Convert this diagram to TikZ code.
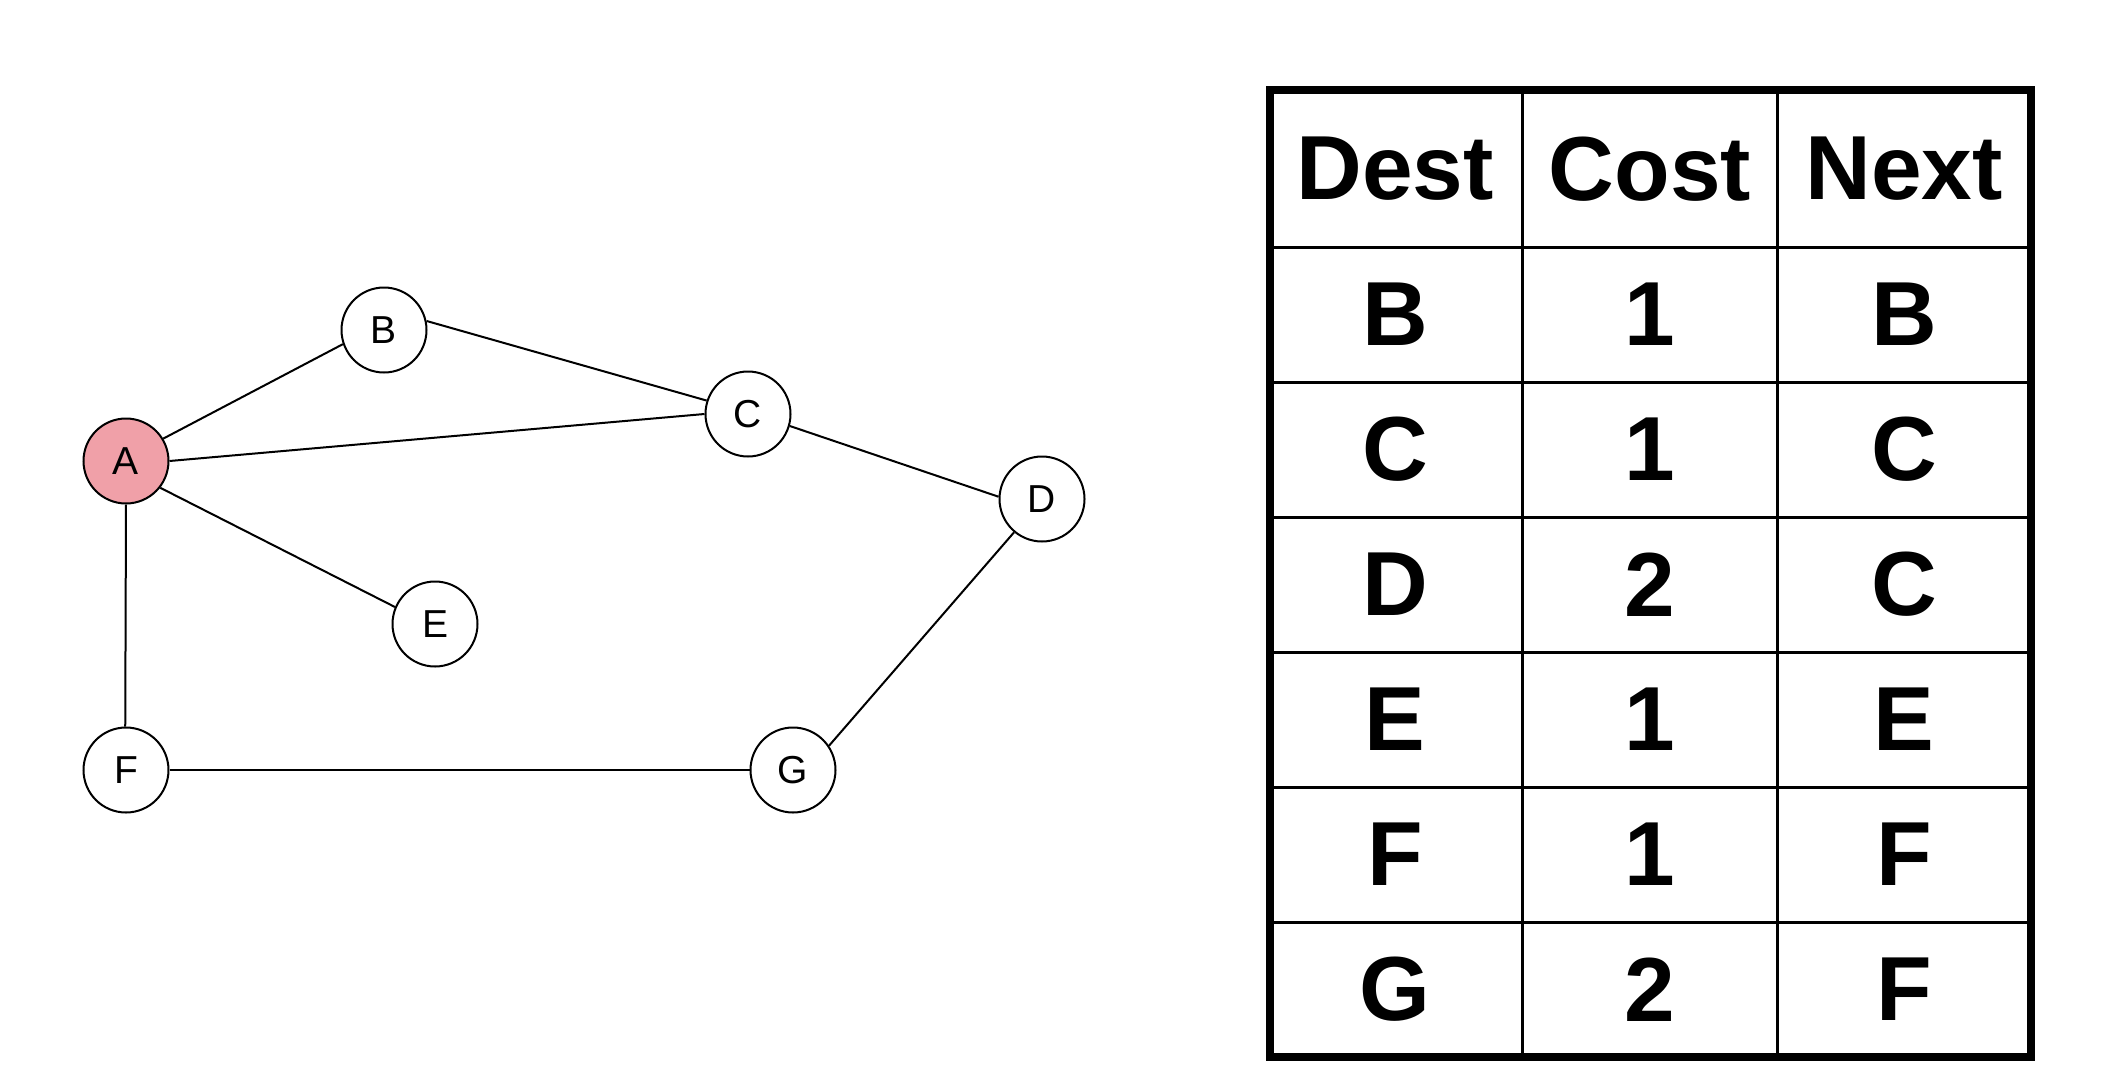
\documentclass[tikz,border=0pt]{standalone}
\usepackage{fontspec}
\setmainfont{Liberation Sans}
\definecolor{srcpink}{RGB}{240,160,168}
\begin{document}
\begin{tikzpicture}[x=1pt,y=-1pt,
  router/.style={circle,draw=black,line width=2pt,fill=white,minimum size=85pt,inner sep=0pt,
    font=\fontsize{39}{39}\selectfont},
  link/.style={line width=2pt,draw=black},
  cell/.style={font=\bfseries\fontsize{91}{91}\selectfont,inner sep=0pt,anchor=center}]
\useasboundingbox (0,0) rectangle (2114,1074);

% network graph
\node[router,fill=srcpink] (A) at (126,461) {A};
\node[router] (B) at (384,330) {B};
\node[router] (C) at (748,414) {C};
\node[router] (D) at (1042,499) {D};
\node[router] (E) at (435,624) {E};
\node[router] (F) at (126,770) {F};
\node[router] (G) at (793,770) {G};

\draw[link] (A.31)  -- (B.-161);
\draw[link] (B.12)  -- (C.162);
\draw[link] (A.0)   -- (C.180);
\draw[link] (C.-16) -- (D.177);
\draw[link] (A.-38) -- (E.157);
\draw[link] (A.-90) -- (F.91);
\draw[link] (F.0)   -- (G.180);
\draw[link] (G.34)  -- (D.-130);

% routing table grid
\draw[line width=3pt] (1522,90) -- (1522,1057) (1777,90) -- (1777,1057);
\foreach \y in {247,382,517,652,787,922}
  \draw[line width=3pt] (1270,\y) -- (2031,\y);
\draw[line width=8pt] (1270,90) rectangle (2031,1057);

% header row
\node[cell] (h1) at (1395,169) {Dest};
\node[cell] (h2) at (1650,169) {Cost};
\node[cell] (h3) at (1904,169) {Next};

% table rows
\foreach \dst/\cst/\nxt [count=\i] in {B/1/B,C/1/C,D/2/C,E/1/E,F/1/F,G/2/F}{
  \pgfmathsetmacro{\yy}{247+135*(\i-1)+67.5}
  \node[cell] (d\i) at (1395,\yy) {\dst};
  \node[cell] (c\i) at (1650,\yy) {\cst};
  \node[cell] (n\i) at (1904,\yy) {\nxt};
}
\end{tikzpicture}
\end{document}
